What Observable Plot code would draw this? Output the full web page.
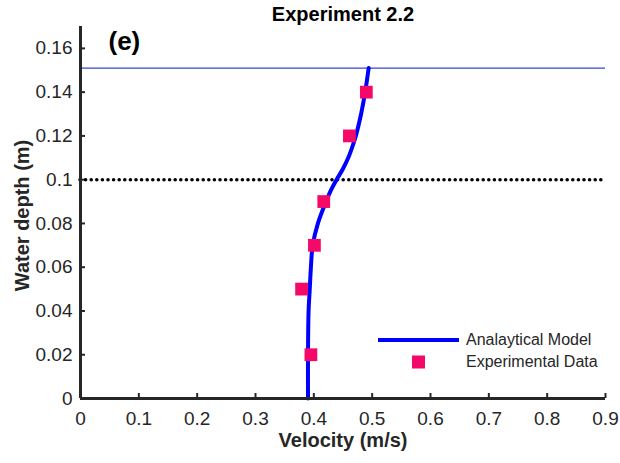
<!DOCTYPE html>
<html>
<head>
<meta charset="utf-8">
<script src="https://cdn.jsdelivr.net/npm/d3@7"></script>
<script src="https://cdn.jsdelivr.net/npm/@observablehq/plot@0.6"></script>
<style>
  body { margin: 0; background: #fff; }
  #wrap { position: relative; width: 620px; height: 463px; font-family: "Liberation Sans", Arial, sans-serif; }
  #legend { position: absolute; left: 378px; top: 329px; font-size: 16px; color: #262626; line-height: 22px; }
  #legend .row { display: flex; align-items: center; }
  #legend svg { width: 81px; height: 22px; margin-right: 7px; }
</style>
</head>
<body>
<div id="wrap"></div>
<script>
const title = "Experiment 2.2";
const panelLabel = "(e)";
const xLabel = "Velocity (m/s)";
const yLabel = "Water depth (m)";
const seriesNames = ["Analaytical Model", "Experimental Data"];

const modelDepth = [0, 0.02, 0.04, 0.05, 0.06, 0.07, 0.08, 0.09, 0.095, 0.1, 0.105, 0.11, 0.115, 0.12, 0.13, 0.14, 0.151];
const modelVelocity = [0.390, 0.390, 0.391, 0.393, 0.395, 0.398, 0.407, 0.421, 0.429, 0.439, 0.450, 0.459, 0.466, 0.472, 0.481, 0.488, 0.494];

const expDepth = [0.02, 0.05, 0.07, 0.09, 0.12, 0.14];
const expVelocity = [0.395, 0.379, 0.401, 0.417, 0.461, 0.490];

const waterSurface = [0.151];
const interfaceDepth = [0.1];

const xTicks = [0, 0.1, 0.2, 0.3, 0.4, 0.5, 0.6, 0.7, 0.8, 0.9];
const yTicks = [0, 0.02, 0.04, 0.06, 0.08, 0.1, 0.12, 0.14, 0.16];

const model = modelDepth.map((d, i) => ({depth: d, v: modelVelocity[i]}));
const exp = expDepth.map((d, i) => ({depth: d, v: expVelocity[i]}));

const axisColor = "#262626";
const modelColor = "#0000ff";
const expColor = "#f40868";

const chart = Plot.plot({
  width: 620,
  height: 463,
  marginLeft: 80,
  marginRight: 15,
  marginTop: 26,
  marginBottom: 65,
  style: {fontFamily: "'Liberation Sans', Arial, sans-serif", background: "#fff"},
  x: {domain: [0, 0.9], ticks: xTicks},
  y: {domain: [0, 0.17], ticks: yTicks},
  marks: [
    Plot.axisX({ticks: xTicks, tickFormat: d => String(d), tickSize: -5, tickPadding: 18, fontSize: 19, color: axisColor, strokeWidth: 2, label: null}),
    Plot.axisY({ticks: yTicks, tickFormat: d => String(d), tickSize: -5, tickPadding: 13, fontSize: 19, color: axisColor, strokeWidth: 2, label: null}),
    Plot.ruleY(waterSurface, {stroke: "#3344dd", strokeWidth: 1.2}),
    Plot.ruleY(interfaceDepth, {stroke: "#000", strokeWidth: 3.6, strokeDasharray: "0,5.6", strokeLinecap: "round"}),
    Plot.line(model, {x: "v", y: "depth", stroke: modelColor, strokeWidth: 4, curve: "catmull-rom"}),
    Plot.dot(exp, {x: "v", y: "depth", symbol: "square", r: 7.2, fill: expColor, stroke: "none"}),
    Plot.ruleX([0], {stroke: axisColor, strokeWidth: 3}),
    Plot.ruleY([0], {stroke: axisColor, strokeWidth: 3}),
    Plot.text([title], {frameAnchor: "top", lineAnchor: "middle", dy: -12, fontSize: 20, fontWeight: "bold", fill: "#000"}),
    Plot.text([panelLabel], {frameAnchor: "top-left", lineAnchor: "middle", dx: 28, dy: 15, fontSize: 26, fontWeight: "bold", fill: "#000", textAnchor: "start"}),
    Plot.text([xLabel], {frameAnchor: "bottom", lineAnchor: "middle", dy: 42, fontSize: 20, fontWeight: "bold", fill: axisColor}),
    Plot.text([yLabel], {frameAnchor: "left", textAnchor: "middle", lineAnchor: "middle", dx: -58, dy: 3, rotate: -90, fontSize: 20, fontWeight: "bold", fill: axisColor})
  ]
});

const wrap = document.getElementById("wrap");
wrap.appendChild(chart);

const legend = document.createElement("div");
legend.id = "legend";
legend.innerHTML = `
  <div class="row"><svg><line x1="0" x2="81" y1="11" y2="11" stroke="${modelColor}" stroke-width="4"/></svg><span>${seriesNames[0]}</span></div>
  <div class="row"><svg><rect x="34" y="4.5" width="13" height="13" fill="${expColor}"/></svg><span>${seriesNames[1]}</span></div>`;
wrap.appendChild(legend);
</script>
</body>
</html>
